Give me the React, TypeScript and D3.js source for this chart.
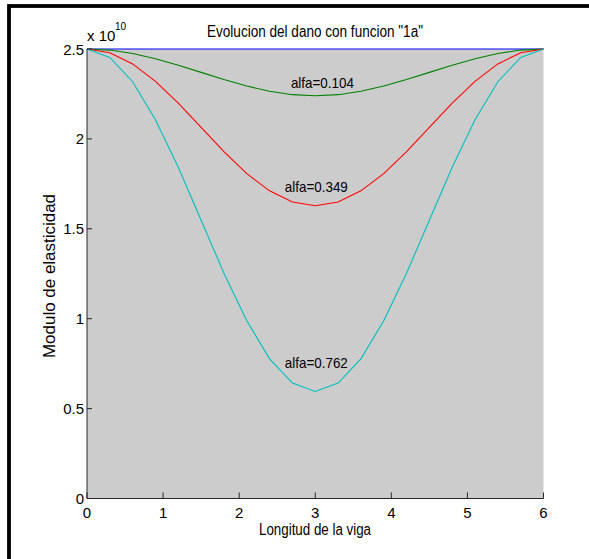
import React from "react";
import * as d3 from "d3";

const xValues = [0, 0.3, 0.6, 0.9, 1.2, 1.5, 1.8, 2.1, 2.4, 2.7, 3.0, 3.3, 3.6, 3.9, 4.2, 4.5, 4.8, 5.1, 5.4, 5.7, 6.0];
const blueValues = [2.5, 2.5, 2.5, 2.5, 2.5, 2.5, 2.5, 2.5, 2.5, 2.5, 2.5, 2.5, 2.5, 2.5, 2.5, 2.5, 2.5, 2.5, 2.5, 2.5, 2.5];
const greenValues = [2.5, 2.494, 2.475, 2.446, 2.41, 2.37, 2.33, 2.294, 2.265, 2.246, 2.24, 2.246, 2.265, 2.294, 2.33, 2.37, 2.41, 2.446, 2.475, 2.494, 2.5];
const redValues = [2.5, 2.479, 2.417, 2.32, 2.199, 2.064, 1.929, 1.807, 1.711, 1.649, 1.628, 1.649, 1.711, 1.807, 1.929, 2.064, 2.199, 2.32, 2.417, 2.479, 2.5];
const cyanValues = [2.5, 2.453, 2.318, 2.107, 1.842, 1.548, 1.253, 0.988, 0.777, 0.642, 0.595, 0.642, 0.777, 0.988, 1.253, 1.548, 1.842, 2.107, 2.318, 2.453, 2.5];

const seriesNames = ["alfa0", "alfa=0.104", "alfa=0.349", "alfa=0.762"];
const seriesColors = ["#0000ff", "#008000", "#ff0000", "#00bfbf"];

const annotationTexts = ["alfa=0.104", "alfa=0.349", "alfa=0.762"];
const annotationX = [2.68, 2.6, 2.6];
const annotationY = [2.285, 1.707, 0.724];

const xTicks = [0, 1, 2, 3, 4, 5, 6];
const yTicks = [0, 0.5, 1, 1.5, 2, 2.5];
const yTickLabels = ["0", "0.5", "1", "1.5", "2", "2.5"];

const titleText = 'Evolucion del dano con funcion "1a"';
const xLabel = "Longitud de la viga";
const yLabel = "Modulo de elasticidad";

const W = 589;
const H = 559;
const left = 87;
const right = 543.5;
const top = 49;
const bottom = 498.5;
const font = "'Liberation Sans', Arial, Helvetica, sans-serif";

export default function App() {
  const x = d3.scaleLinear().domain([0, 6]).range([left, right]);
  const y = d3.scaleLinear().domain([0, 2.5]).range([bottom, top]);
  const line = d3
    .line<number>()
    .x((_, i) => x(xValues[i]))
    .y((v) => y(v));
  const allSeries = [blueValues, greenValues, redValues, cyanValues];

  return (
    <svg
      width={W}
      height={H}
      style={{ position: "absolute", left: 0, top: 0, background: "#fff" }}
      fontFamily={font}
    >
      <rect x={0} y={0} width={W} height={H} fill="#fff" />
      <rect x={9} y={6} width={700} height={700} fill="none" stroke="#000" strokeWidth={3.8} />
      <rect x={left} y={top} width={right - left} height={bottom - top} fill="#cccccc" />
      {allSeries.map((vals, i) => (
        <path key={seriesNames[i]} d={line(vals) || ""} fill="none" stroke={seriesColors[i]} strokeWidth={1.1} />
      ))}
      <line x1={left} y1={top} x2={left} y2={bottom} stroke="#262626" strokeWidth={1} />
      <line x1={left} y1={bottom} x2={right} y2={bottom} stroke="#262626" strokeWidth={1} />
      {xTicks.map((t) => (
        <g key={"xt" + t}>
          <line x1={x(t)} x2={x(t)} y1={bottom} y2={bottom - 6} stroke="#262626" strokeWidth={1} />
          <text x={x(t)} y={518} fontSize={15} textAnchor="middle" fill="#000">
            {t}
          </text>
        </g>
      ))}
      {yTicks.map((t, i) => (
        <g key={"yt" + t}>
          <line x1={left} x2={left + 5} y1={y(t)} y2={y(t)} stroke="#262626" strokeWidth={1} />
          <text x={84} y={y(t) + 5.5} fontSize={15} textAnchor="end" fill="#000">
            {yTickLabels[i]}
          </text>
        </g>
      ))}
      <text x={87} y={40.5} fontSize={15} fill="#000">
        x 10
      </text>
      <text x={115} y={30} fontSize={10} fill="#000">
        10
      </text>
      {annotationTexts.map((t, i) => (
        <text
          key={t}
          x={x(annotationX[i])}
          y={y(annotationY[i])}
          fontSize={15}
          fill="#000"
          textLength={63}
          lengthAdjust="spacingAndGlyphs"
        >
          {t}
        </text>
      ))}
      <text x={315} y={37} fontSize={16} textAnchor="middle" fill="#000" textLength={216} lengthAdjust="spacingAndGlyphs">
        {titleText}
      </text>
      <text x={315} y={535} fontSize={16} textAnchor="middle" fill="#000" textLength={112} lengthAdjust="spacingAndGlyphs">
        {xLabel}
      </text>
      <text
        transform={`translate(55, 276) rotate(-90)`}
        fontSize={16}
        textAnchor="middle"
        fill="#000"
        textLength={164}
        lengthAdjust="spacingAndGlyphs"
      >
        {yLabel}
      </text>
    </svg>
  );
}
